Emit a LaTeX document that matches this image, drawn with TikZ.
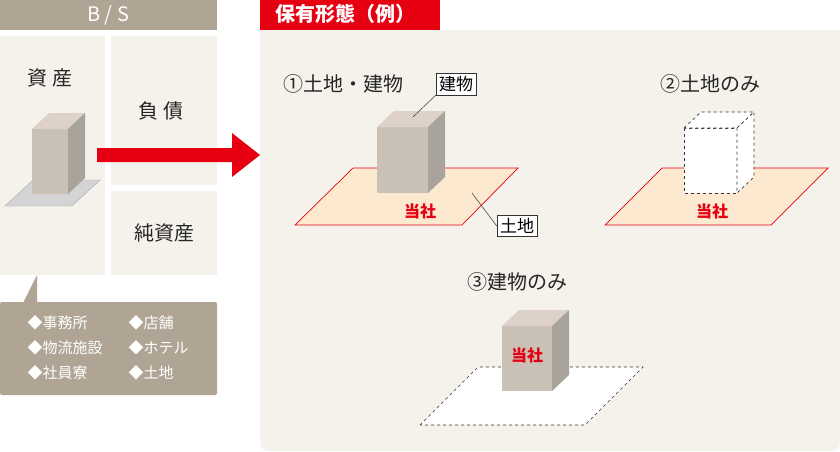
\documentclass[tikz,border=0pt]{standalone}
\usepackage{fontspec}
\setmainfont{Noto Sans CJK JP}
\definecolor{tan}{HTML}{B0A595}
\definecolor{pale}{HTML}{F5F2EC}
\definecolor{myred}{HTML}{E60012}
\definecolor{land}{HTML}{FCE9CF}
\definecolor{bfront}{HTML}{C9C1B5}
\definecolor{btop}{HTML}{DDD1C9}
\definecolor{bside}{HTML}{A9A49B}
\tikzset{
 lbl/.style={font=\fontsize{20}{20}\selectfont, text=black!85},
 head/.style={font=\fontsize{20}{20}\selectfont, text=black!85},
 tag/.style={draw=black!80, fill=white, font=\fontsize{17}{17}\selectfont, inner sep=3pt, line width=0.6pt},
 item/.style={font=\fontsize{15}{15}\selectfont, text=white, anchor=west},
 ours/.style={font=\fontsize{16}{16}\selectfont\bfseries, text=myred}
}
\newcommand{\bldg}[5]{% x0 y0 x1 y1 style
 \fill[bfront] (#1,#2) rectangle (#3,#4);
 \fill[btop] (#1,#2) -- ++(17,-16) -- (#3+17,#2-16) -- (#3,#2) -- cycle;
 \fill[bside] (#3,#2) -- (#3+17,#2-16) -- (#3+17,#4-16) -- (#3,#4) -- cycle;}
\begin{document}
\begin{tikzpicture}[x=1pt,y=-1pt]
\useasboundingbox (0,0) rectangle (840,451);
% left
\fill[tan] (0,0) rectangle (217,30);
\node[text=white, font=\fontsize{20}{20}\selectfont] (bs) at (108,15) {B / S};
\fill[pale] (0,36) rectangle (105,275);
\fill[pale] (111,36) rectangle (217,185);
\fill[pale] (111,191) rectangle (217,275);
\node[lbl] (asset) at (50,78) {資 産};
\node[lbl] (debt) at (161,111) {負 債};
\node[lbl] (eq) at (164,233) {純資産};
\fill[black!17, draw=black!35] (5,206) -- (33,180) -- (100,180) -- (72,206) -- cycle;
\bldg{32}{129}{68}{194}{}
\fill[tan, rounded corners=2pt] (0,302) rectangle (217,395);
\fill[tan] (23,303) -- (37,275) -- (37,303) -- cycle;
\node[item] (i1) at (24,323) {◆事務所};
\node[item] (i2) at (24,348) {◆物流施設};
\node[item] (i3) at (24,373) {◆社員寮};
\node[item] (i4) at (125,323) {◆店舗};
\node[item] (i5) at (125,348) {◆ホテル};
\node[item] (i6) at (125,373) {◆土地};
% arrow
\fill[myred] (97,148) -- (232,148) -- (232,133) -- (260,155) -- (232,177) -- (232,162) -- (97,162) -- cycle;
% right panel
\fill[pale, rounded corners=8pt] (260,30) -- (840,30) -- (840,451) -- (260,451) -- cycle;
\fill[pale] (260,30) rectangle (840,60);
\fill[myred] (260,0) rectangle (440,30);
\node[text=white, font=\fontsize{20}{20}\selectfont\bfseries, anchor=west] (hd) at (272,14) {保有形態（例）};
% 1
\node[head, anchor=west] (t1) at (280,84) {①土地・建物};
\fill[land, draw=myred, line width=0.7pt] (295,225) -- (353,168) -- (518,168) -- (462,225) -- cycle;
\bldg{377}{127}{428}{193}{}
\node[ours] (o1) at (420,211) {当社};
\coordinate (b1) at (413,117);
\coordinate (l1) at (472,193);
\node[tag] (tb) at (456,84) {建物};
\node[tag] (tl) at (517,226) {土地};
\draw[black!80, line width=0.5pt] (b1) -- (tb.south west);
\draw[black!80, line width=0.5pt] (l1) -- (tl.west);
% 2
\node[head] (t2) at (710,84) {②土地のみ};
\fill[land, draw=myred, line width=0.7pt] (605,225) -- (662,168) -- (828,168) -- (771,225) -- cycle;
\draw[dashed, black!80, fill=white, line width=0.6pt] (684,128) rectangle (737,193);
\draw[dashed, black!80, fill=white, line width=0.6pt] (684,128) -- (701,112) -- (754,112) -- (737,128) -- cycle;
\draw[dashed, black!80, fill=white, line width=0.6pt] (737,128) -- (754,112) -- (754,177) -- (737,193) -- cycle;
\node[ours] (o2) at (712,211) {当社};
% 3
\node[head] (t3) at (517,282) {③建物のみ};
\draw[dashed, black!80, fill=white, line width=0.6pt] (420,425) -- (478,367) -- (643,367) -- (585,425) -- cycle;
\bldg{502}{326}{552}{391}{}
\node[ours] (o3) at (527,355) {当社};
\end{tikzpicture}
\end{document}
